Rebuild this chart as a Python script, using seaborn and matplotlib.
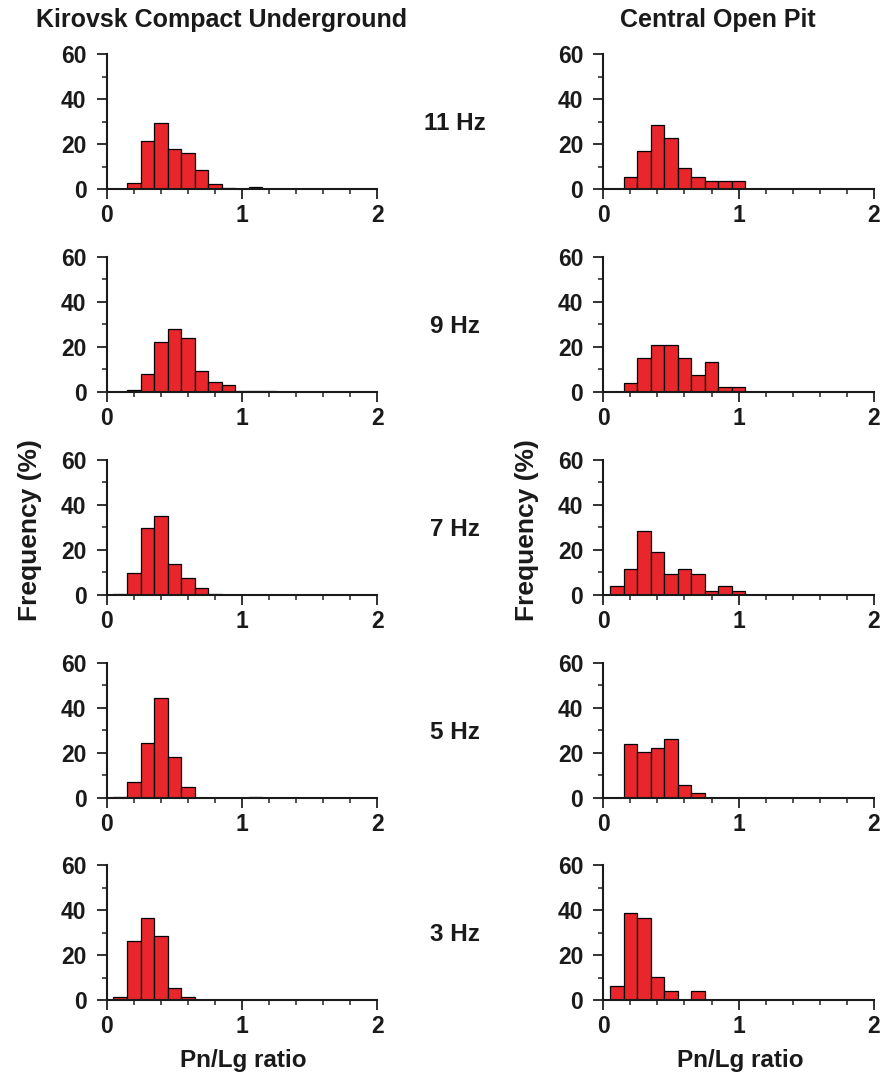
import numpy as np
import pandas as pd
import matplotlib
matplotlib.use("Agg")
import matplotlib.pyplot as plt
from matplotlib.ticker import MultipleLocator
import seaborn as sns

sns.set_style("ticks")
plt.rcParams['font.family'] = ['Liberation Sans', 'DejaVu Sans']

# Bin centres of the Pn/Lg ratio histograms (bin width 0.1)
bin_centers = [0.1, 0.2, 0.3, 0.4, 0.5, 0.6, 0.7, 0.8, 0.9, 1.0, 1.1, 1.2]

frequencies = ["11 Hz", "9 Hz", "7 Hz", "5 Hz", "3 Hz"]

# Kirovsk Compact Underground, frequency (%) per bin
kirovsk_11 = [0.0, 2.7, 21.3, 29.3, 17.9, 15.8, 8.6, 2.2, 0.3, 0.0, 0.8, 0.2]
kirovsk_9 = [0.0, 0.9, 8.0, 21.9, 28.0, 23.7, 9.0, 4.1, 3.0, 0.3, 0.3, 0.2]
kirovsk_7 = [0.3, 9.8, 29.7, 35.0, 13.7, 7.4, 3.0, 0.3, 0.0, 0.0, 0.0, 0.0]
kirovsk_5 = [0.5, 7.1, 24.3, 44.4, 18.0, 4.9, 0.0, 0.0, 0.0, 0.0, 0.5, 0.0]
kirovsk_3 = [1.5, 26.2, 36.4, 28.6, 5.5, 1.5, 0.0, 0.0, 0.0, 0.0, 0.0, 0.0]

# Central Open Pit, frequency (%) per bin
central_11 = [0.0, 5.5, 17.0, 28.4, 22.6, 9.4, 5.5, 3.6, 3.6, 3.6, 0.0, 0.0]
central_9 = [0.0, 3.9, 15.1, 20.6, 20.6, 15.1, 7.6, 13.3, 2.1, 2.1, 0.0, 0.0]
central_7 = [3.9, 11.3, 28.4, 18.9, 9.2, 11.3, 9.4, 1.8, 3.9, 1.8, 0.0, 0.0]
central_5 = [0.0, 24.0, 20.4, 22.3, 26.1, 5.6, 1.9, 0.0, 0.0, 0.0, 0.0, 0.0]
central_3 = [6.1, 38.6, 36.5, 10.1, 4.0, 0.0, 4.0, 0.0, 0.0, 0.0, 0.0, 0.0]

left_title = "Kirovsk Compact Underground"
right_title = "Central Open Pit"
xlabel = "Pn/Lg ratio"
ylabel = "Frequency (%)"

kirovsk = [kirovsk_11, kirovsk_9, kirovsk_7, kirovsk_5, kirovsk_3]
central = [central_11, central_9, central_7, central_5, central_3]

W, H = 886, 1080
fig = plt.figure(figsize=(W / 100, H / 100), dpi=100)

bar_color = "#E8262B"
text_color = "#1a1a1a"
bin_width = 0.1
bin_range = (bin_centers[0] - bin_width / 2, bin_centers[-1] + bin_width / 2)

col_left_px = [106.7, 603.3]
ax_w_px = 270.5
row_top_px = [54, 256.7, 459.7, 662.7, 865]
ax_h_px = 135

fs_tick = 16.5
fs_lab = 17.5

for r in range(5):
    for c, series in enumerate([kirovsk, central]):
        l = col_left_px[c] / W
        b = 1 - (row_top_px[r] + ax_h_px) / H
        ax = fig.add_axes([l, b, ax_w_px / W, ax_h_px / H])
        df = pd.DataFrame({"ratio": bin_centers, "freq": series[r]})
        sns.histplot(data=df, x="ratio", weights="freq",
                     binwidth=bin_width, binrange=bin_range,
                     color=bar_color, alpha=1.0, edgecolor="black",
                     linewidth=0.9, ax=ax)
        ax.set_xlim(0, 2)
        ax.set_ylim(0, 60)
        ax.set_xlabel("")
        ax.set_ylabel("")
        ax.xaxis.set_major_locator(MultipleLocator(1))
        ax.xaxis.set_minor_locator(MultipleLocator(0.2))
        ax.yaxis.set_major_locator(MultipleLocator(20))
        ax.yaxis.set_minor_locator(MultipleLocator(10))
        ax.tick_params(which="major", length=7, width=1.3, direction="out",
                       labelsize=fs_tick, color="#222222")
        ax.tick_params(axis="y", which="major", pad=7.5)
        ax.tick_params(axis="x", which="major", pad=4)
        ax.tick_params(which="minor", length=3.5, width=1.1, direction="out",
                       color="#222222")
        for lab in ax.get_xticklabels() + ax.get_yticklabels():
            lab.set_fontweight("bold")
            lab.set_color(text_color)
        for s in ["top", "right"]:
            ax.spines[s].set_visible(False)
        for s in ["left", "bottom"]:
            ax.spines[s].set_linewidth(1.5)
            ax.spines[s].set_color(text_color)
        ax.set_facecolor("none")

    # frequency label
    yc = 1 - (row_top_px[r] + ax_h_px / 2 + 2) / H
    fig.text(455 / W, yc, frequencies[r], ha="center", va="center",
             fontsize=fs_lab, fontweight="bold", color=text_color)

# column titles
fig.text(222 / W, 1 - 20 / H, left_title, ha="center", va="center",
         fontsize=18, fontweight="bold", color=text_color)
fig.text(718 / W, 1 - 20 / H, right_title, ha="center", va="center",
         fontsize=18, fontweight="bold", color=text_color)

# y labels
for x_px in [30, 527]:
    fig.text(x_px / W, 1 - 530 / H, ylabel, ha="center", va="center",
             rotation=90, fontsize=19, fontweight="bold", color=text_color)

# x labels
for x_px in [243, 740]:
    fig.text(x_px / W, 1 - 1060 / H, xlabel, ha="center", va="center",
             fontsize=fs_lab, fontweight="bold", color=text_color)

fig.savefig("out.png", dpi=100, facecolor="white")
